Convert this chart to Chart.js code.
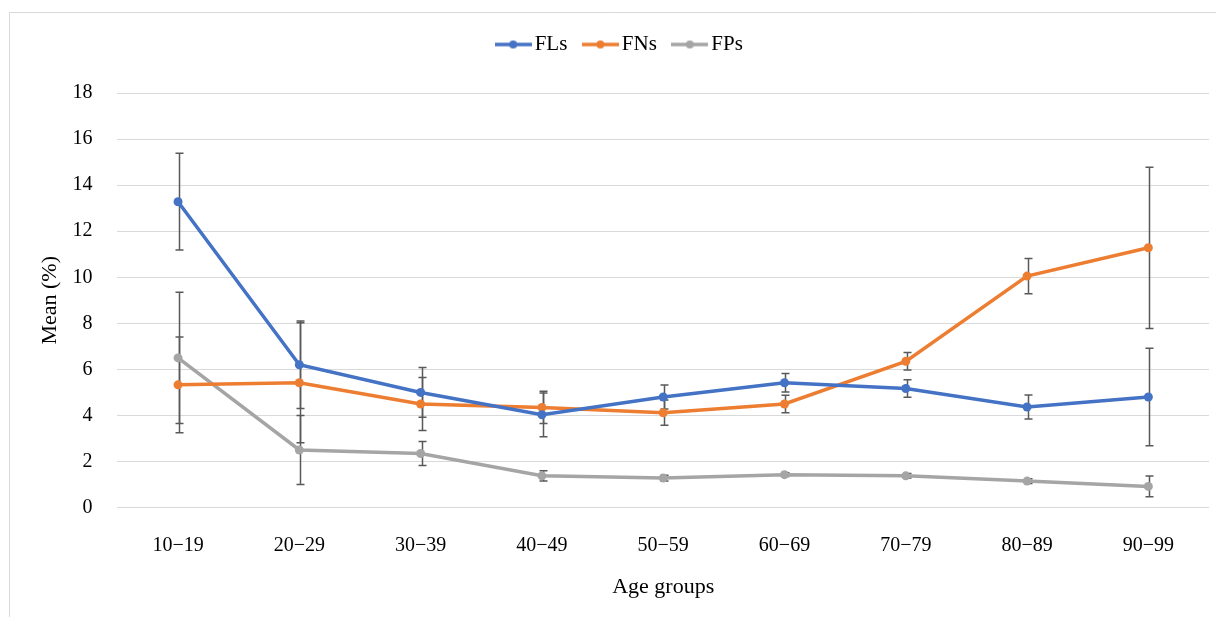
<!DOCTYPE html>
<html>
    <head>
        <title>Mean by age group</title>
        <meta charset="UTF-8">
        <script src="https://cdn.jsdelivr.net/npm/chart.js@4.4.0/dist/chart.umd.min.js"></script>
        <style>
            html, body { margin: 0; padding: 0; background: #ffffff; }
            #wrap { width: 1216px; height: 617px; position: relative; }
        </style>
    </head>
    <body>
        <div id="wrap"><canvas id="myChart" width="1216" height="617"></canvas></div>
        <script>
            // Data
            const ageGroups = ['10−19', '20−29', '30−39', '40−49', '50−59', '60−69', '70−79', '80−89', '90−99'];

            const flsMean = [13.28, 6.2, 5.0, 4.03, 4.8, 5.42, 5.17, 4.37, 4.8];
            const flsErr  = [2.1, 1.9, 1.08, 0.95, 0.52, 0.4, 0.38, 0.52, 2.12];

            const fnsMean = [5.33, 5.42, 4.5, 4.35, 4.12, 4.5, 6.35, 10.05, 11.28];
            const fnsErr  = [2.08, 2.6, 1.15, 0.7, 0.55, 0.38, 0.38, 0.77, 3.5];

            const fpsMean = [6.5, 2.5, 2.35, 1.38, 1.28, 1.43, 1.38, 1.15, 0.92];
            const fpsErr  = [2.85, 1.5, 0.52, 0.22, 0.12, 0.08, 0.1, 0.1, 0.45];

            const yTicks = [0, 2, 4, 6, 8, 10, 12, 14, 16, 18];

            const colours = {
                fls: '#4472c4',
                fns: '#ed7d31',
                fps: '#a5a5a5'
            };

            const serif = "'Liberation Serif', 'DejaVu Serif', serif";

            // legend icon: short line with a dot in the middle
            function legendIcon(colour) {
                let c = document.createElement('canvas');
                c.width = 37;
                c.height = 12;
                let g = c.getContext('2d');
                g.strokeStyle = colour;
                g.lineWidth = 3.5;
                g.beginPath();
                g.moveTo(0, 6);
                g.lineTo(37, 6);
                g.stroke();
                g.fillStyle = colour;
                g.beginPath();
                g.arc(18.5, 6, 4, 0, Math.PI * 2);
                g.fill();
                return c;
            }

            // thin frame around the figure (only top and left are visible)
            const framePlugin = {
                id: 'frame',
                beforeDraw(chart) {
                    let ctx = chart.ctx;
                    ctx.save();
                    ctx.strokeStyle = '#d9d9d9';
                    ctx.lineWidth = 1;
                    ctx.beginPath();
                    ctx.moveTo(9.5, 617);
                    ctx.lineTo(9.5, 12.5);
                    ctx.lineTo(1216, 12.5);
                    ctx.stroke();
                    ctx.restore();
                    // legend sits a bit right of the middle in the original
                    chart.legend.left = 36;
                    chart.legend.right = 1209;
                }
            };

            // more room between the legend and the plot
            const legendGapPlugin = {
                id: 'legendGap',
                beforeInit(chart) {
                    let origFit = chart.legend.fit;
                    chart.legend.fit = function () {
                        origFit.bind(chart.legend)();
                        this.height += 28;
                    };
                }
            };

            // symmetric error bars, drawn under the lines
            const errorBarPlugin = {
                id: 'errorBars',
                beforeDatasetsDraw(chart) {
                    let ctx = chart.ctx;
                    let x = chart.scales.x;
                    let y = chart.scales.y;
                    ctx.save();
                    ctx.strokeStyle = '#595959';
                    ctx.lineWidth = 1.5;
                    chart.data.datasets.forEach(ds => {
                        ds.data.forEach((v, i) => {
                            let e = ds.errors[i];
                            let px = Math.round(x.getPixelForValue(i)) + 1.5;
                            let top = y.getPixelForValue(v + e);
                            let bot = y.getPixelForValue(v - e);
                            ctx.beginPath();
                            ctx.moveTo(px, top);
                            ctx.lineTo(px, bot);
                            ctx.moveTo(px - 4, top);
                            ctx.lineTo(px + 4, top);
                            ctx.moveTo(px - 4, bot);
                            ctx.lineTo(px + 4, bot);
                            ctx.stroke();
                        });
                    });
                    ctx.restore();
                }
            };

            function makeSeries(label, values, errs, colour) {
                return {
                    label: label,
                    data: values,
                    errors: errs,
                    borderColor: colour,
                    backgroundColor: colour,
                    borderWidth: 3.5,
                    pointRadius: 4.5,
                    pointHoverRadius: 4.5,
                    pointBorderWidth: 0,
                    tension: 0,
                    icon: legendIcon(colour)
                };
            }

            let ctx = document.getElementById('myChart').getContext('2d');
            var chart = new Chart(ctx, {
                type: 'line',
                data: {
                    labels: ageGroups,
                    datasets: [
                        makeSeries('FLs', flsMean, flsErr, colours.fls),
                        makeSeries('FNs', fnsMean, fnsErr, colours.fns),
                        makeSeries('FPs', fpsMean, fpsErr, colours.fps)
                    ]
                },
                plugins: [framePlugin, legendGapPlugin, errorBarPlugin],
                options: {
                    responsive: false,
                    animation: false,
                    devicePixelRatio: 1,
                    layout: {
                        padding: { top: 12, right: 7, bottom: 0, left: 10 }
                    },
                    plugins: {
                        tooltip: { enabled: false },
                        legend: {
                            position: 'top',
                            labels: {
                                color: '#000000',
                                font: { family: serif, size: 21 },
                                usePointStyle: true,
                                pointStyleWidth: 22,
                                boxHeight: 12,
                                padding: 22,
                                generateLabels(chart) {
                                    let items = Chart.defaults.plugins.legend.labels.generateLabels(chart);
                                    items.forEach(it => {
                                        it.pointStyle = chart.data.datasets[it.datasetIndex].icon;
                                    });
                                    return items;
                                }
                            }
                        }
                    },
                    scales: {
                        x: {
                            offset: true,
                            grid: { display: false, drawTicks: false },
                            border: { display: false },
                            ticks: {
                                color: '#000000',
                                font: { family: serif, size: 20 },
                                padding: 26,
                                maxRotation: 0
                            },
                            title: {
                                display: true,
                                text: 'Age groups',
                                color: '#000000',
                                font: { family: serif, size: 22 },
                                padding: { top: -10, bottom: 17 }
                            }
                        },
                        y: {
                            min: 0,
                            max: 18,
                            afterBuildTicks(axis) {
                                axis.ticks = yTicks.map(v => ({ value: v }));
                            },
                            grid: { color: '#d9d9d9', lineWidth: 1, drawTicks: false },
                            border: { display: false },
                            ticks: {
                                color: '#000000',
                                font: { family: serif, size: 20 },
                                padding: 25
                            },
                            title: {
                                display: true,
                                text: 'Mean (%)',
                                color: '#000000',
                                font: { family: serif, size: 22 },
                                padding: { top: 27, bottom: -16 }
                            }
                        }
                    }
                }
            });
        </script>
    </body>
</html>
